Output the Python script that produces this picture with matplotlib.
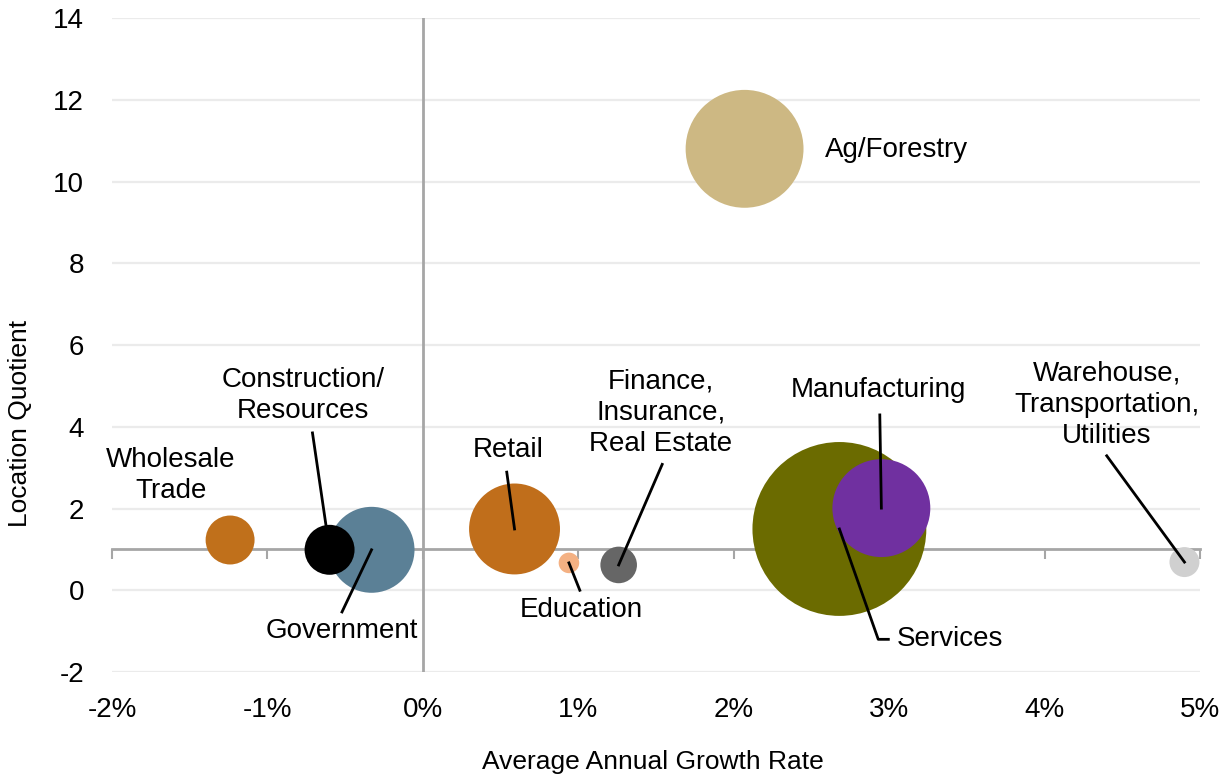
import matplotlib
matplotlib.use("Agg")
import matplotlib.pyplot as plt
from matplotlib.ticker import FuncFormatter

plt.rcParams["font.family"] = ["Liberation Sans", "DejaVu Sans"]
plt.rcParams["axes.unicode_minus"] = False

# ---------------------------------------------------------------------------
# Data
# ---------------------------------------------------------------------------
sectors = ["Ag/Forestry", "Wholesale Trade", "Government", "Construction/Resources",
           "Retail", "Education", "Finance, Insurance, Real Estate", "Services",
           "Manufacturing", "Warehouse, Transportation, Utilities"]
growth_pct = [2.07, -1.24, -0.33, -0.60, 0.59, 0.94, 1.26, 2.68, 2.95, 4.90]
location_quotient = [10.8, 1.23, 0.99, 0.99, 1.50, 0.67, 0.62, 1.50, 2.01, 0.69]
bubble_size = [34.8, 6.0, 18.5, 6.25, 20.7, 1.06, 3.35, 75.7, 24.0, 2.25]
colors = ["#CDB883", "#C0701B", "#5B8096", "#000000", "#C06E1B",
          "#F4B183", "#666666", "#6B6B00", "#7030A0", "#D0D0D0"]

x_ticks = [-2, -1, 0, 1, 2, 3, 4, 5]
y_ticks = [-2, 0, 2, 4, 6, 8, 10, 12, 14]

# label text, text position, leader start (None = no leader), alignment
labels = {
    "Ag/Forestry": ("Ag/Forestry", (2.59, 10.78), None, "left"),
    "Wholesale Trade": ("Wholesale\nTrade", (-1.62, 2.82), None, "center"),
    "Government": ("Government", (-0.52, -1.0), (-0.52, -0.53), "center"),
    "Construction/Resources": ("Construction/\nResources", (-0.77, 4.76), (-0.71, 3.85), "center"),
    "Retail": ("Retail", (0.55, 3.42), (0.54, 2.89), "center"),
    "Education": ("Education", (1.02, -0.48), (1.01, 0.0), "center"),
    "Finance, Insurance, Real Estate": ("Finance,\nInsurance,\nReal Estate", (1.53, 4.34), (1.54, 3.08), "center"),
    "Manufacturing": ("Manufacturing", (2.93, 4.90), (2.94, 4.29), "center"),
    "Warehouse, Transportation, Utilities": ("Warehouse,\nTransportation,\nUtilities", (4.40, 4.54), (4.40, 3.29), "center"),
}

FS = 20
GRID = "#EBEBEB"
AXIS = "#A6A6A6"

fig = plt.figure(figsize=(12.29, 7.77), dpi=100, facecolor="white")
ax = fig.add_axes([0.0911, 0.1351, 0.8853, 0.8417])

ax.set_xlim(-2, 5)
ax.set_ylim(-2, 14)
ax.set_yticks(y_ticks)
ax.yaxis.grid(True, color=GRID, linewidth=1.6)
ax.set_axisbelow(True)

for s in ["top", "right", "left"]:
    ax.spines[s].set_visible(False)

# horizontal axis crosses at LQ = 1, tick marks there; labels placed low
ax.spines["bottom"].set_position(("data", 1))
ax.spines["bottom"].set_color(AXIS)
ax.spines["bottom"].set_linewidth(2)
ax.spines["bottom"].set_zorder(1)
ax.set_xticks(x_ticks)
ax.tick_params(axis="x", direction="out", length=7, width=1.5, color=AXIS,
               labelbottom=False)
ax.tick_params(axis="y", length=0, pad=20, labelsize=FS)

sec = ax.secondary_xaxis("bottom")
sec.set_xticks(x_ticks)
sec.xaxis.set_major_formatter(FuncFormatter(lambda v, _: f"{v:.0f}%"))
sec.tick_params(length=0, pad=18, labelsize=FS)
sec.spines["bottom"].set_visible(False)

ax.axvline(0, color=AXIS, linewidth=2, zorder=1)

ax.scatter(growth_pct, location_quotient, s=[v * 207 for v in bubble_size],
           c=colors, linewidths=0, zorder=3)

for i, name in enumerate(sectors):
    if name not in labels:
        continue
    text, (tx, ty), lead, ha = labels[name]
    ax.text(tx, ty, text, ha=ha, va="center", fontsize=FS, linespacing=1.25,
            zorder=5)
    if lead is not None:
        ax.plot([lead[0], growth_pct[i]], [lead[1], location_quotient[i]],
                color="black", linewidth=2, zorder=4)

# Services label with elbow leader
i = sectors.index("Services")
ax.plot([growth_pct[i], 2.93, 2.995], [location_quotient[i], -1.2, -1.2],
        color="black", linewidth=2, zorder=4)
ax.text(3.05, -1.2, "Services", ha="left", va="center", fontsize=FS, zorder=5)

fig.text(0.016, 0.455, "Location Quotient", rotation=90, ha="center",
         va="center", fontsize=FS - 1)
fig.text(0.531, 0.019, "Average Annual Growth Rate", ha="center", va="center",
         fontsize=FS - 1)

fig.savefig("out.png", dpi=100, facecolor="white")
